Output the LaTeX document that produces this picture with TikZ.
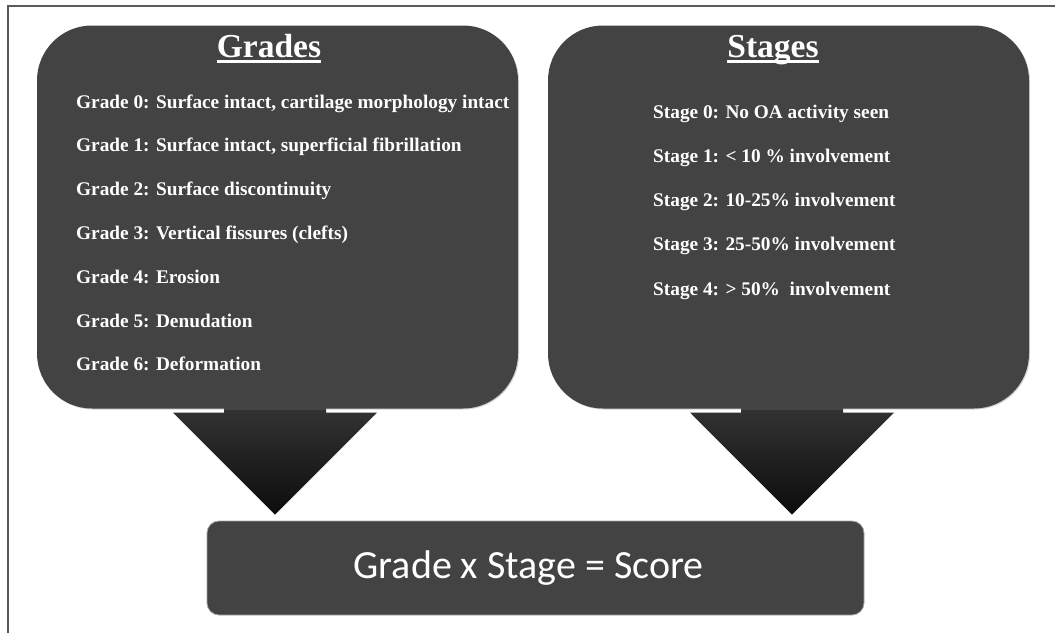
\documentclass[tikz,border=0pt]{standalone}
\usepackage{fontspec}
\setmainfont{Liberation Serif}
\newfontfamily\scorefont{Carlito}
\usetikzlibrary{positioning, calc, shadows}

\definecolor{boxgray}{HTML}{434343}
\definecolor{arrowtop}{HTML}{3C3C3C}
\definecolor{framegray}{HTML}{5A5A5A}

\tikzset{
  panel/.style={rectangle, rounded corners=55pt, fill=boxgray, inner sep=0pt,
    drop shadow={shadow xshift=1pt, shadow yshift=-1pt, opacity=0.35}},
  resultbox/.style={rectangle, rounded corners=12pt, fill=boxgray, draw=gray!70, line width=0.8pt, inner sep=0pt},
  heading/.style={text=white, font=\bfseries\fontsize{33.5}{36}\selectfont, inner sep=0pt, anchor=base},
  item/.style={text=white, font=\bfseries\fontsize{19.3}{21}\selectfont, inner sep=0pt, anchor=base west},
  funnel/.style={top color=arrowtop, bottom color=black!95, draw=none}
}

% arrow from a panel down to the score box
\newcommand{\funnel}[2]{%
  \shade[funnel] ($(#1.south)+(-51,-28)$) -- ($(#1.south)+(-51,4)$)
    -- ($(#1.south)+(-102,4)$) -- ($(#1.south |- #2.north)+(0,-6)$)
    -- ($(#1.south)+(102,4)$) -- ($(#1.south)+(51,4)$)
    -- ($(#1.south)+(51,-28)$) -- cycle;}

\begin{document}
\begin{tikzpicture}[x=1pt, y=-1pt]
\useasboundingbox (0,0) rectangle (1055,632);
% frame (cut off at right and bottom)
\draw[framegray, line width=2.5pt] (8,633) -- (8,6) -- (1056,6);

% result box
\node[resultbox, minimum width=657pt, minimum height=94pt] (score) at (535.5,568) {};
\node[text=white, font=\scorefont\fontsize{40}{44}\selectfont, inner sep=0pt, anchor=base]
  (scoretext) at (528.5,578) {Grade x Stage = Score};

% arrows (drawn below the panels)
\coordinate (garrow) at (275,408.5);
\coordinate (sarrow) at (792,408.5);
\funnel{garrow}{score}
\funnel{sarrow}{score}

% panels
\node[panel, minimum width=481pt, minimum height=383pt] (grades) at (277.5,217) {};
\node[panel, minimum width=481pt, minimum height=383pt] (stages) at (788.5,217) {};

% Grades
\node[heading] (gtitle) at (269,57) {Grades};
\draw[white, line width=2.5pt] ([yshift=-4.5pt]gtitle.base west) -- ([yshift=-4.5pt]gtitle.base east);
\foreach \txt [count=\i from 0] in {Surface intact{,} cartilage morphology intact,
    Surface intact{,} superficial fibrillation, Surface discontinuity,
    Vertical fissures (clefts), Erosion, Denudation, Deformation}
  \node[item] (g\i) at (76,108+43.8*\i) {Grade \i: \txt};

% Stages
\node[heading] (stitle) at (773,57) {Stages};
\draw[white, line width=2.5pt] ([yshift=-4.5pt]stitle.base west) -- ([yshift=-4.5pt]stitle.base east);
\node[item] (s0) at (653,118) {Stage 0: No OA activity seen};
\node[item] (s1) at (653,162.25) {Stage 1: < 10 \% involvement};
\node[item] (s2) at (653,206.5) {Stage 2: 10-25\% involvement};
\node[item] (s3) at (653,250.75) {Stage 3: 25-50\% involvement};
\node[item] (s4) at (653,295) {Stage 4: > 50\%\ \ involvement};
\end{tikzpicture}
\end{document}
